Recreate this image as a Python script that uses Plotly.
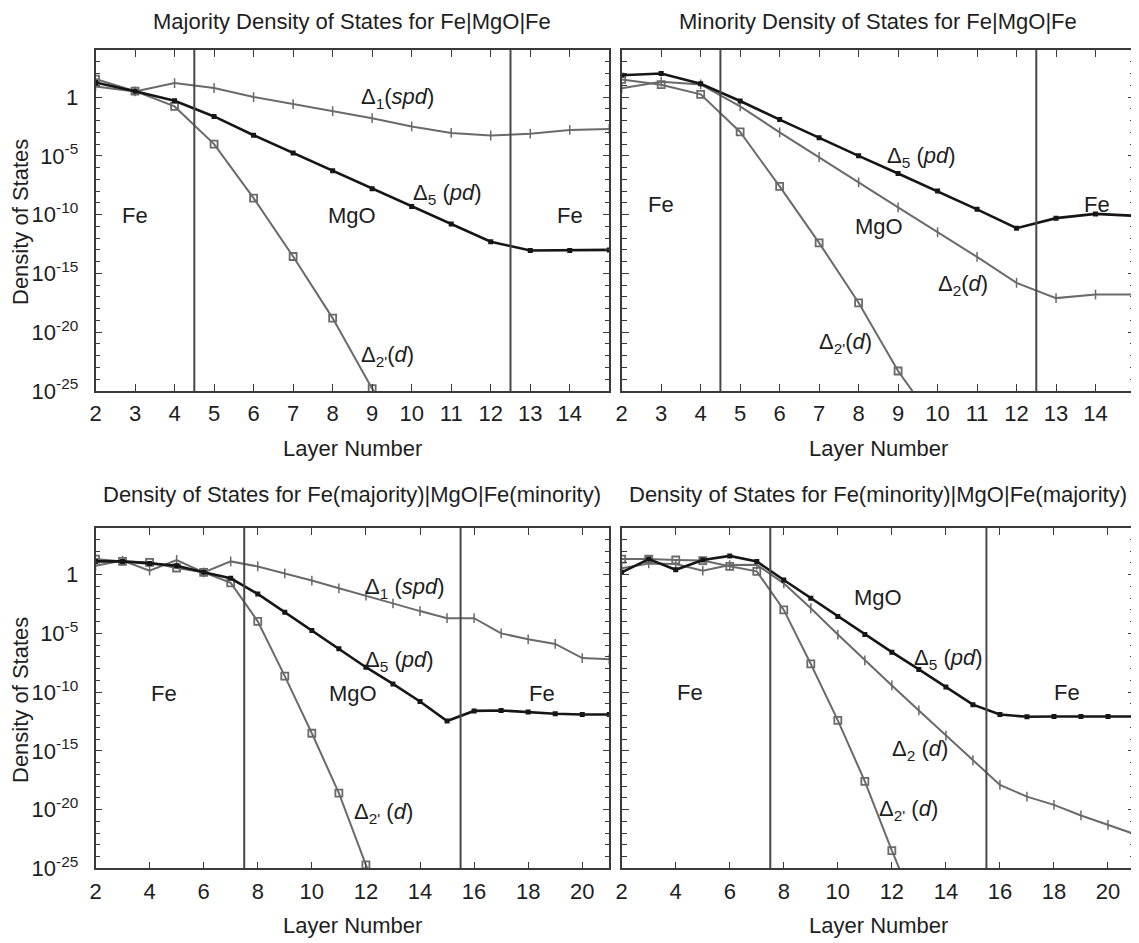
import numpy as np
import plotly.graph_objects as go

# ---------------- data (log10 of density of states) ----------------
layers_top = list(range(2, 16))
layers_bot = list(range(2, 22))

# Majority Fe|MgO|Fe
tl_d1 = [0.9, 0.48, 1.19, 0.77, 0.0, -0.6, -1.2, -1.8, -2.5, -3.05, -3.27, -3.12, -2.8, -2.72]
tl_d5 = [1.24, 0.5, -0.31, -1.65, -3.25, -4.75, -6.27, -7.8, -9.3, -10.8, -12.3, -13.05, -13.05, -13.0]
tl_d2p_x = [2, 3, 4, 5, 6, 7, 8, 9, 10]
tl_d2p = [1.53, 0.5, -0.8, -4.0, -8.6, -13.56, -18.8, -24.8, -30.0]

# Minority Fe|MgO|Fe
tr_d5 = [1.85, 2.0, 1.13, -0.34, -1.92, -3.47, -5.0, -6.5, -8.0, -9.55, -11.15, -10.3, -9.94, -10.1]
tr_d2 = [0.75, 1.3, 1.07, -0.8, -3.0, -5.1, -7.26, -9.38, -11.5, -13.6, -15.8, -17.1, -16.8, -16.8]
tr_d2p_x = [2, 3, 4, 5, 6, 7, 8, 9, 10]
tr_d2p = [1.5, 1.05, 0.23, -2.97, -7.6, -12.4, -17.5, -23.3, -28.0]

# Fe(majority)|MgO|Fe(minority)
bl_d1 = [0.76, 1.2, 0.34, 1.25, 0.2, 1.13, 0.7, 0.11, -0.5, -1.16, -1.78, -2.44, -3.1, -3.7,
         -3.7, -5.0, -5.5, -5.9, -7.1, -7.2]
bl_d5 = [1.13, 1.13, 0.96, 0.76, 0.2, -0.31, -1.64, -3.2, -4.76, -6.3, -7.88, -9.3, -10.8, -12.46,
         -11.6, -11.56, -11.7, -11.84, -11.9, -11.9]
bl_d2p_x = [2, 3, 4, 5, 6, 7, 8, 9, 10, 11, 12, 13]
bl_d2p = [1.33, 1.13, 1.05, 0.57, 0.2, -0.7, -3.97, -8.64, -13.5, -18.6, -24.7, -31.0]

# Fe(minority)|MgO|Fe(majority)
br_d5 = [0.2, 1.33, 0.42, 1.25, 1.6, 1.13, -0.45, -2.0, -3.57, -5.1, -6.6, -8.07, -9.57, -11.07,
         -11.9, -12.1, -12.07, -12.07, -12.07, -12.07]
br_d2 = [0.54, 0.96, 0.9, 0.34, 0.82, 0.85, -0.74, -2.86, -5.1, -7.3, -9.43, -11.56, -13.7, -15.8,
         -17.9, -18.9, -19.6, -20.5, -21.3, -22.1]
br_d2p_x = [2, 3, 4, 5, 6, 7, 8, 9, 10, 11, 12, 13]
br_d2p = [1.33, 1.33, 1.25, 1.2, 0.71, 0.28, -3.0, -7.6, -12.4, -17.6, -23.5, -29.0]

titles = ["Majority Density of States for Fe|MgO|Fe",
          "Minority Density of States for Fe|MgO|Fe",
          "Density of States for Fe(majority)|MgO|Fe(minority)",
          "Density of States for Fe(minority)|MgO|Fe(majority)"]
boundaries_top = [4.5, 12.5]
boundaries_bot = [7.5, 15.5]
x_ticks_top = list(range(2, 15))
x_ticks_bot = list(range(2, 21, 2))
y_tick_exp = [-25, -20, -15, -10, -5, 0]
y_tick_text = ["10<sup>-25</sup>", "10<sup>-20</sup>", "10<sup>-15</sup>",
               "10<sup>-10</sup>", "10<sup>-5</sup>", "1"]

# label texts with (x, log10 y) anchor
labels = [
    [("Δ<sub>1</sub>(<i>spd</i>)", 9.65, -0.05), ("Δ<sub>5</sub> (<i>pd</i>)", 10.9, -8.25),
     ("Δ<sub>2'</sub>(<i>d</i>)", 9.38, -22.0), ("Fe", 3.0, -10.1), ("MgO", 8.5, -10.1), ("Fe", 14.0, -10.1)],
    [("Δ<sub>5</sub> (<i>pd</i>)", 9.6, -5.14), ("Fe", 2.99, -9.1), ("MgO", 8.52, -11.0),
     ("Fe", 14.03, -9.1), ("Δ<sub>2</sub>(<i>d</i>)", 10.65, -16.0), ("Δ<sub>2'</sub>(<i>d</i>)", 7.66, -20.9)],
    [("Δ<sub>1</sub> (<i>spd</i>)", 13.46, -1.13), ("Δ<sub>5</sub> (<i>pd</i>)", 13.26, -7.37),
     ("Δ<sub>2'</sub> (<i>d</i>)", 12.66, -20.26), ("Fe", 4.53, -10.08), ("MgO", 11.52, -10.08),
     ("Fe", 18.5, -10.08)],
    [("MgO", 11.5, -1.93), ("Δ<sub>5</sub> (<i>pd</i>)", 14.1, -7.22), ("Fe", 4.52, -10.0),
     ("Fe", 18.48, -10.0), ("Δ<sub>2</sub> (<i>d</i>)", 13.03, -14.96), ("Δ<sub>2'</sub> (<i>d</i>)", 12.63, -20.06)],
]

# ---------------- styling ----------------
PAGE_OFF = 8                     # default page body margin in the browser
W, H = 1139 - PAGE_OFF, 943 - PAGE_OFF
FONT = "Liberation Sans, Arial, sans-serif"
BLACK = "#161616"
GRAY = "#6a6a6a"
AX = "#3a3a3a"
TXT = "#1e1e1e"
FS = 22

def px_x(p):
    return (p - PAGE_OFF) / W

def px_y(p):
    return 1 - (p - PAGE_OFF) / H

x_dom = [[px_x(95.5), px_x(609.3)], [px_x(621.7), px_x(1135)],
         [px_x(95.5), px_x(609.3)], [px_x(621.7), px_x(1135)]]
y_dom = [[px_y(391), px_y(50)], [px_y(391), px_y(50)],
         [px_y(868.3), px_y(527.7)], [px_y(868.3), px_y(527.7)]]

def p10(v):
    return [10.0 ** e for e in v]

fig = go.Figure()

def add_line(i, xs, ys, kind):
    ax = "" if i == 1 else str(i)
    if kind == "d5":
        line = dict(color=BLACK, width=2.6)
        marker = dict(symbol="square", size=5, color=BLACK)
    elif kind == "plus":
        line = dict(color=GRAY, width=2.0)
        marker = dict(symbol="line-ns-open", size=7, color=GRAY, line=dict(color=GRAY, width=1.5))
    else:
        line = dict(color=GRAY, width=2.0)
        marker = dict(symbol="square-open", size=7, color=GRAY, line=dict(color=GRAY, width=1.8))
    fig.add_trace(go.Scatter(x=xs, y=p10(ys), mode="lines+markers", line=line, marker=marker,
                             xaxis="x" + ax, yaxis="y" + ax, showlegend=False, cliponaxis=True))

add_line(1, layers_top, tl_d1, "plus")
add_line(1, tl_d2p_x, tl_d2p, "sq")
add_line(1, layers_top, tl_d5, "d5")
add_line(2, layers_top, tr_d2, "plus")
add_line(2, tr_d2p_x, tr_d2p, "sq")
add_line(2, layers_top, tr_d5, "d5")
add_line(3, layers_bot, bl_d1, "plus")
add_line(3, bl_d2p_x, bl_d2p, "sq")
add_line(3, layers_bot, bl_d5, "d5")
add_line(4, layers_bot, br_d2, "plus")
add_line(4, br_d2p_x, br_d2p, "sq")
add_line(4, layers_bot, br_d5, "d5")

layout = dict(width=W, height=H, margin=dict(l=0, r=0, t=0, b=0, pad=0, autoexpand=False),
              paper_bgcolor="white", plot_bgcolor="white",
              font=dict(family=FONT, size=FS, color=TXT), showlegend=False)

for i in range(1, 5):
    ax = "" if i == 1 else str(i)
    top = i <= 2
    xr = [2, 15] if top else [2, 21]
    xt = x_ticks_top if top else x_ticks_bot
    layout["xaxis" + ax] = dict(
        domain=x_dom[i - 1], anchor="y" + ax, range=xr, tickvals=xt, automargin=False,
        ticks="inside", ticklen=7, tickwidth=1.3, tickcolor=AX,
        showline=True, linecolor=AX, linewidth=1.6, mirror="ticks",
        showgrid=False, zeroline=False, ticklabelstandoff=2,
        tickfont=dict(size=FS, family=FONT, color=TXT))
    layout["yaxis" + ax] = dict(
        domain=y_dom[i - 1], anchor="x" + ax, type="log", range=[-25, 4], automargin=False,
        tickvals=[10.0 ** e for e in y_tick_exp], ticktext=y_tick_text,
        showticklabels=(i in (1, 3)),
        ticks="inside", ticklen=7, tickwidth=1.3, tickcolor=AX,
        minor=dict(tickvals=[10.0 ** k for k in range(-25, 5)], ticks="inside",
                   ticklen=5, tickwidth=1.1, tickcolor=AX),
        showline=True, linecolor=AX, linewidth=1.6, mirror="ticks",
        showgrid=False, zeroline=False, ticklabelstandoff=11,
        tickfont=dict(size=FS, family=FONT, color=TXT))

shapes = []
for i in range(1, 5):
    ax = "" if i == 1 else str(i)
    bnds = boundaries_top if i <= 2 else boundaries_bot
    for b in bnds:
        shapes.append(dict(type="line", xref="x" + ax, yref="y" + ax + " domain",
                           x0=b, x1=b, y0=0, y1=1, line=dict(color="#474747", width=2)))
layout["shapes"] = shapes

annotations = []
for i in range(4):
    cx = (x_dom[i][0] + x_dom[i][1]) / 2
    if i < 2:
        annotations.append(dict(text=titles[i], x=cx, y=1.0, xref="paper", yref="paper",
                                showarrow=False, borderpad=0,
                                font=dict(size=FS, family=FONT, color=TXT),
                                xanchor="center", yanchor="top"))
    else:
        annotations.append(dict(text=titles[i], x=cx, y=px_y(494), xref="paper", yref="paper",
                                showarrow=False, borderpad=0,
                                font=dict(size=FS, family=FONT, color=TXT),
                                xanchor="center", yanchor="middle"))
    annotations.append(dict(text="Layer Number", x=cx, y=px_y(448 if i < 2 else 925),
                            xref="paper", yref="paper", showarrow=False, borderpad=0,
                            font=dict(size=FS, family=FONT, color=TXT),
                            xanchor="center", yanchor="middle"))
for yc in (222, 700):
    annotations.append(dict(text="Density of States", x=px_x(20), y=px_y(yc), xref="paper",
                            yref="paper", showarrow=False, textangle=-90, borderpad=0,
                            font=dict(size=FS, family=FONT, color=TXT),
                            xanchor="center", yanchor="middle"))
for i in range(4):
    ax = "" if i == 0 else str(i + 1)
    for (t, lx, ly) in labels[i]:
        annotations.append(dict(text=t, x=lx, y=ly, xref="x" + ax, yref="y" + ax,
                                showarrow=False, font=dict(size=FS, family=FONT, color=TXT),
                                xanchor="center", yanchor="middle"))
layout["annotations"] = annotations

fig.update_layout(**layout)
fig.write_html("out.html")
